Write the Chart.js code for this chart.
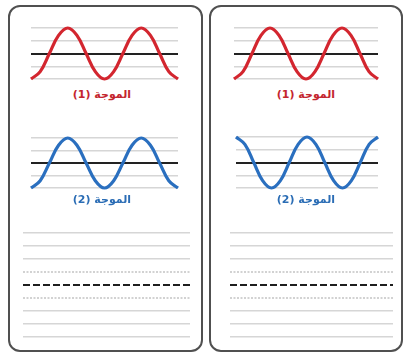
<!DOCTYPE html>
<html lang="ar">
<head>
<meta charset="utf-8">
<script src="https://cdn.jsdelivr.net/npm/chart.js@4/dist/chart.umd.min.js"></script>
<style>
  html, body { margin:0; padding:0; background:#fff; }
  body { width:406px; height:354px; position:relative; overflow:hidden; }
  .panel { position:absolute; top:5px; height:347px; box-sizing:border-box;
           border:2px solid #505050; border-radius:12px; background:#fff; }
  canvas { position:absolute; }
  .lbl { position:absolute; width:120px; text-align:center; direction:rtl;
         font-family:"DejaVu Sans", sans-serif; font-weight:bold; font-size:11px; line-height:13px; }
</style>
</head>
<body>
<div class="panel" style="left:8px;width:195px;"></div>
<div class="panel" style="left:209px;width:194px;"></div>

<canvas id="w1L" width="159" height="67" style="left:25px;top:20px;"></canvas>
<canvas id="w2L" width="159" height="66" style="left:25px;top:130px;"></canvas>
<canvas id="w1R" width="156" height="67" style="left:228px;top:20px;"></canvas>
<canvas id="w2R" width="154" height="67" style="left:230px;top:129px;"></canvas>
<canvas id="gL" width="179" height="116" style="left:17px;top:227px;"></canvas>
<canvas id="gR" width="175" height="116" style="left:224px;top:227px;"></canvas>

<div class="lbl" id="l1L" style="left:42px;top:88px;color:#c4262e;"></div>
<div class="lbl" id="l2L" style="left:42px;top:193px;color:#2b6db5;"></div>
<div class="lbl" id="l1R" style="left:246px;top:88px;color:#c4262e;"></div>
<div class="lbl" id="l2R" style="left:246px;top:193px;color:#2b6db5;"></div>

<script>
// ---- data ----
const WAVE_LABEL_1 = "الموجة (1)";
const WAVE_LABEL_2 = "الموجة (2)";
const SAMPLE_POSITIONS = ["0","1","2","3","4","5","6","7","8","9","10","11","12","13","14","15","16"];
// two full periods, sampled every eighth of a period
const WAVE1_LEFT  = [-1,-0.71,0,0.71,1,0.71,0,-0.71,-1,-0.71,0,0.71,1,0.71,0,-0.71,-1];
const WAVE2_LEFT  = [-1,-0.71,0,0.71,1,0.71,0,-0.71,-1,-0.71,0,0.71,1,0.71,0,-0.71,-1];
const WAVE1_RIGHT = [-1,-0.71,0,0.71,1,0.71,0,-0.71,-1,-0.71,0,0.71,1,0.71,0,-0.71,-1];
const WAVE2_RIGHT = [1,0.71,0,-0.71,-1,-0.71,0,0.71,1,0.71,0,-0.71,-1,-0.71,0,0.71,1];
const WAVE_TICKS = [-1,-0.5,0,0.5,1];
// writing guide lines (levels 0..8), dashed middle, dotted neighbours
const GUIDE_ENDS = ["start","end"];
const GUIDE_LEVELS = [0,1,2,3,4,5,6,7,8];
const DASHED_LEVEL = [4,4];
const DOTTED_LEVEL_A = [3,3];
const DOTTED_LEVEL_B = [5,5];

const RED = "#d3262f";
const BLUE = "#2a6fbf";
const LIGHT = "#d6d6d6";

document.getElementById("l1L").textContent = WAVE_LABEL_1;
document.getElementById("l2L").textContent = WAVE_LABEL_2;
document.getElementById("l1R").textContent = WAVE_LABEL_1;
document.getElementById("l2R").textContent = WAVE_LABEL_2;

function waveChart(id, values, color, padL, padR, padT, padB) {
  new Chart(document.getElementById(id), {
    type: "line",
    data: {
      labels: SAMPLE_POSITIONS,
      datasets: [{
        data: values, borderColor: color, borderWidth: 3.2, pointRadius: 0,
        tension: 0.4, clip: false, fill: false
      }]
    },
    options: {
      responsive: false, animation: false, devicePixelRatio: 1,
      layout: { padding: { left: padL, right: padR, top: padT, bottom: padB } },
      plugins: { legend: { display: false }, tooltip: { enabled: false } },
      scales: {
        x: { display: true, offset: false, grid: { display: false, drawTicks: false },
             border: { display: false }, ticks: { display: false } },
        y: { min: -1, max: 1,
             afterBuildTicks: (s) => { s.ticks = WAVE_TICKS.map(v => ({ value: v })); },
             grid: { drawTicks: false,
                     color: (c) => c.tick && c.tick.value === 0 ? "#222222" : LIGHT,
                     lineWidth: (c) => c.tick && c.tick.value === 0 ? 2 : 1.5 },
             border: { display: false }, ticks: { display: false } }
      }
    }
  });
}

waveChart("w1L", WAVE1_LEFT, RED, 6, 6, 8, 8);
waveChart("w2L", WAVE2_LEFT, BLUE, 6, 6, 8, 8);
waveChart("w1R", WAVE1_RIGHT, RED, 6, 6, 8, 8);
waveChart("w2R", WAVE2_RIGHT, BLUE, 6, 6, 8, 8);

function guideChart(id) {
  new Chart(document.getElementById(id), {
    type: "line",
    data: {
      labels: GUIDE_ENDS,
      datasets: [
        { data: DASHED_LEVEL, borderColor: "#1e1e1e", borderWidth: 2.2, borderDash: [7, 3], pointRadius: 0, clip: false },
        { data: DOTTED_LEVEL_A, borderColor: "#c4c4c4", borderWidth: 1.3, borderDash: [2, 1.5], pointRadius: 0, clip: false },
        { data: DOTTED_LEVEL_B, borderColor: "#c4c4c4", borderWidth: 1.3, borderDash: [2, 1.5], pointRadius: 0, clip: false }
      ]
    },
    options: {
      responsive: false, animation: false, devicePixelRatio: 1,
      layout: { padding: { left: 6, right: 6, top: 6, bottom: 6 } },
      plugins: { legend: { display: false }, tooltip: { enabled: false } },
      scales: {
        x: { offset: false, grid: { display: false, drawTicks: false },
             border: { display: false }, ticks: { display: false } },
        y: { min: 0, max: 8,
             afterBuildTicks: (s) => { s.ticks = GUIDE_LEVELS.map(v => ({ value: v })); },
             grid: { drawTicks: false,
                     color: (c) => (c.tick && [3,4,5].includes(c.tick.value)) ? "rgba(0,0,0,0)" : LIGHT,
                     lineWidth: 1.5 },
             border: { display: false }, ticks: { display: false } }
      }
    }
  });
}
guideChart("gL");
guideChart("gR");
</script>
</body>
</html>
